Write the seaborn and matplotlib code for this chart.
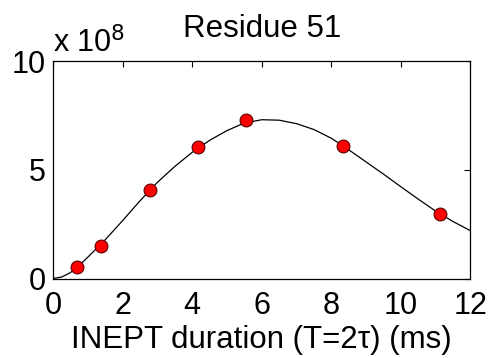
import matplotlib
matplotlib.use("Agg")
import matplotlib.pyplot as plt
import seaborn as sns
import pandas as pd
from matplotlib.ticker import FuncFormatter

# Measured points (INEPT duration in ms, intensity)
point_x = [0.69, 1.39, 2.78, 4.17, 5.56, 8.34, 11.12]
point_y = [0.54e8, 1.49e8, 4.07e8, 6.05e8, 7.27e8, 6.09e8, 2.98e8]

# Fitted curve
curve_x = [0.0, 0.25, 0.5, 0.75, 1.0, 1.5, 2.0, 2.5, 3.0, 3.5, 4.0, 4.5, 5.0, 5.5, 6.0,
           6.5, 7.0, 7.5, 8.0, 8.5, 9.0, 9.5, 10.0, 10.5, 11.0, 11.5, 12.0]
curve_y = [0.0, 0.07e8, 0.27e8, 0.60e8, 0.98e8, 1.78e8, 2.66e8, 3.57e8, 4.42e8, 5.15e8, 5.80e8,
           6.35e8, 6.80e8, 7.15e8, 7.30e8, 7.28e8, 7.12e8, 6.85e8, 6.45e8, 5.92e8,
           5.36e8, 4.80e8, 4.22e8, 3.65e8, 3.10e8, 2.62e8, 2.20e8]

x_ticks = [0, 2, 4, 6, 8, 10, 12]
y_ticks = [0, 5e8, 10e8]

sns.set_style("white")
plt.rcParams['font.family'] = ['Liberation Sans', 'DejaVu Sans']
plt.rcParams['text.color'] = 'black'
plt.rcParams['axes.labelcolor'] = 'black'
plt.rcParams['xtick.color'] = 'black'
plt.rcParams['ytick.color'] = 'black'

fig = plt.figure(figsize=(4.94, 3.58), dpi=100)
ax = fig.add_axes([0.1073, 0.222, 0.845, 0.6076])

curve_df = pd.DataFrame({"x": curve_x, "y": curve_y})
pts_df = pd.DataFrame({"x": point_x, "y": point_y})

sns.lineplot(data=curve_df, x="x", y="y", ax=ax, color="black", linewidth=0.9,
             sort=False, zorder=2)
sns.scatterplot(data=pts_df, x="x", y="y", ax=ax, color="#ff0000", s=85,
                edgecolor="#5a0000", linewidth=0.8, zorder=3)

ax.set_xlim(0, 12)
ax.set_ylim(0, 10e8)
ax.set_xticks(x_ticks)
ax.set_yticks(y_ticks)
ax.yaxis.set_major_formatter(FuncFormatter(lambda v, p: f"{v/1e8:g}"))
ax.tick_params(direction="in", length=4, width=0.8, top=True, right=True,
               labelsize=22, colors="black")
ax.tick_params(axis="x", pad=9)
ax.tick_params(axis="y", pad=5)
for s in ax.spines.values():
    s.set_linewidth(0.9)
    s.set_color("black")

ax.set_xlabel("INEPT duration (T=2τ) (ms)", fontsize=22.5, labelpad=3, color="black")
ax.set_ylabel("")
ax.set_title("Residue 51", fontsize=22.5, pad=17, color="black")
fig.text(0.108, 0.834, r"x 10$^{8}$", fontsize=22, ha="left", va="bottom", color="black")

fig.savefig("out.png", dpi=100)
